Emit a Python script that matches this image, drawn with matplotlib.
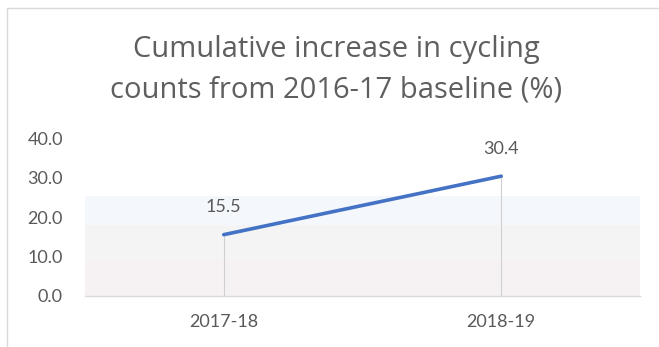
import matplotlib
matplotlib.use("Agg")
import matplotlib.pyplot as plt
from matplotlib.patches import Rectangle

categories = ["2017-18", "2018-19"]
values = [15.5, 30.4]
yticks = [0, 10, 20, 30, 40]

W, H = 659, 347
fig = plt.figure(figsize=(W / 100, H / 100), dpi=100)
fig.patch.set_facecolor("white")

# outer chart border
fig.patches.append(Rectangle((7 / W, -0.1), 1.2, (1 - 8 / H) + 0.1,
                             transform=fig.transFigure, fill=False,
                             edgecolor="#d9d9d9", linewidth=1.0))

y0, y40 = 295.5, 138.5
ax = fig.add_axes([85 / W, 1 - y0 / H, (640 - 85) / W, (y0 - y40) / H])
ax.set_xlim(-0.5, 1.5)
ax.set_ylim(0, 40)

# background band (gradient-like)
ax.axhspan(18.0, 25.3, color="#f4f7fc", zorder=0, lw=0)
ax.axhspan(9.0, 18.0, color="#f4f4f5", zorder=0, lw=0)
ax.axhspan(0, 9.0, color="#f6f2f4", zorder=0, lw=0)

x = list(range(len(categories)))
for xi, v in zip(x, values):
    ax.plot([xi, xi], [0, v], color="#d0d0d0", lw=0.8, zorder=1)
ax.plot(x, values, color="#4472c4", lw=2.6, solid_capstyle="round", zorder=3)

font = "Lato"
fs = 13
for xi, v in zip(x, values):
    ax.annotate(f"{v:.1f}", (xi, v), xytext=(0, 16), textcoords="offset points",
                ha="center", va="baseline", fontsize=fs, color="#595959",
                family=font)

ax.set_xticks(x)
ax.set_xticklabels(categories, family=font, fontsize=fs, color="#595959")
ax.set_yticks(yticks)
ax.set_yticklabels([f"{t:.1f}" for t in yticks], family=font, fontsize=fs,
                   color="#595959")
ax.tick_params(axis="both", length=0)
ax.tick_params(axis="x", pad=13)
ax.tick_params(axis="y", pad=16)
for s in ["top", "right", "left"]:
    ax.spines[s].set_visible(False)
ax.spines["bottom"].set_color("#d9d9d9")
ax.spines["bottom"].set_linewidth(1.0)
ax.set_facecolor("none")

cx = 336 / W
tfont = "Open Sans"
fig.text(cx, 1 - 57 / H, "Cumulative increase in cycling",
         ha="center", va="baseline", fontsize=21, color="#5f5f5f", family=tfont)
fig.text(cx, 1 - 97 / H, "counts from 2016-17 baseline (%)",
         ha="center", va="baseline", fontsize=21, color="#5f5f5f", family=tfont)

fig.savefig("out.png", dpi=100)
